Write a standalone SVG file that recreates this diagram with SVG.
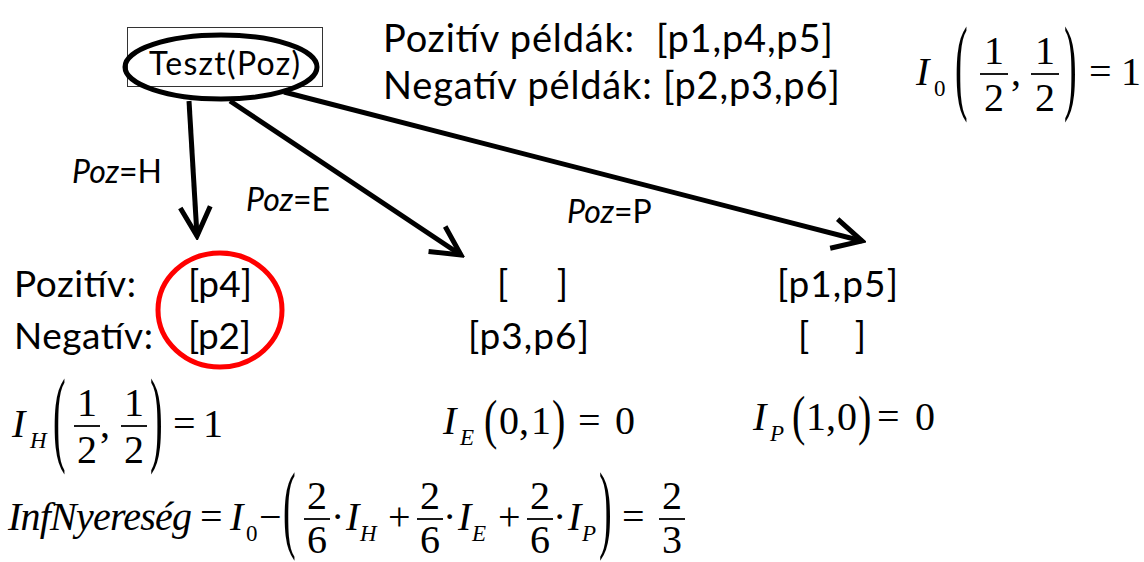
<svg xmlns="http://www.w3.org/2000/svg" width="1144" height="562" viewBox="0 0 1144 562">
<style>
.t{font-family:Lato,"Liberation Sans",sans-serif;fill:#000}
.big{font-size:38px}
.mid{font-size:37px}
.lab{font-size:32px}
.m{font-family:"Liberation Serif","Times New Roman",serif;font-size:40px;fill:#000}
.i{font-style:italic}
.s{font-size:23px}
.bp{font-family:"Liberation Serif","Times New Roman",serif;font-size:38px;fill:#000}
.bar{stroke:#000;stroke-width:1.8}
.c{text-anchor:middle}
.edge{stroke:#000;stroke-width:5;fill:none;marker-end:url(#ah)}
</style>
<defs>
<marker id="ah" markerUnits="userSpaceOnUse" viewBox="-40 -20 44 40" refX="0" refY="0" markerWidth="44" markerHeight="40" orient="auto">
<path d="M-29,-15 L0,0 L-29,15" fill="none" stroke="#000" stroke-width="5" stroke-linejoin="miter"/>
</marker>
</defs>
<rect width="1144" height="562" fill="#fff"/>

<g id="connectors">
<line class="edge" x1="189" y1="101" x2="197" y2="236"/>
<line class="edge" x1="230" y1="101" x2="461" y2="255"/>
<line class="edge" x1="284" y1="92" x2="862" y2="241"/>
<text class="t lab" x="72" y="183"><tspan font-style="italic">Poz</tspan>=H</text>
<text class="t lab" x="246" y="211"><tspan font-style="italic">Poz</tspan>=E</text>
<text class="t lab" x="567" y="223"><tspan font-style="italic">Poz</tspan>=P</text>
</g>

<g id="node-root">
<rect x="127.5" y="27.5" width="195" height="59" fill="none" stroke="#333" stroke-width="1"/>
<ellipse cx="221" cy="67" rx="96" ry="32" fill="none" stroke="#000" stroke-width="5"/>
<text class="t" x="149" y="75" font-size="32" textLength="151">Teszt(Poz)</text>
</g>

<g id="node-examples">
<text class="t big" x="383" y="52" textLength="450" xml:space="preserve">Pozitív példák:  [p1,p4,p5]</text>
<text class="t big" x="383" y="99" textLength="457">Negatív példák: [p2,p3,p6]</text>
</g>

<g id="node-I0">
<text class="m i" x="916" y="85">I</text>
<text class="m s" x="934" y="96">0</text>
<text class="bp" transform="translate(955,100.4) scale(1,2.78)">(</text>
<text class="m c" x="994" y="64">1</text>
<line class="bar" x1="980" y1="74" x2="1008" y2="74"/>
<text class="m c" x="994" y="111">2</text>
<text class="m" x="1011" y="85">,</text>
<text class="m c" x="1045" y="64">1</text>
<line class="bar" x1="1031" y1="74" x2="1059" y2="74"/>
<text class="m c" x="1045" y="111">2</text>
<text class="bp" transform="translate(1064,100.4) scale(1,2.78)">)</text>
<text class="m" x="1089" y="85">=</text>
<text class="m" x="1121" y="85">1</text>
</g>

<g id="node-H">
<text class="t mid" x="14" y="297" textLength="122">Pozitív:</text>
<text class="t mid" x="188" y="297" textLength="64">[p4]</text>
<text class="t mid" x="14" y="349" textLength="139">Negatív:</text>
<text class="t mid" x="188" y="349" textLength="63">[p2]</text>
<ellipse cx="220" cy="310" rx="62" ry="57" fill="none" stroke="#ff0000" stroke-width="5"/>
</g>

<g id="node-E">
<text class="t mid" x="497" y="297" textLength="71" xml:space="preserve">[    ]</text>
<text class="t mid" x="468" y="349" textLength="121">[p3,p6]</text>
</g>

<g id="node-P">
<text class="t mid" x="777" y="297" textLength="121">[p1,p5]</text>
<text class="t mid" x="798" y="349" textLength="68" xml:space="preserve">[    ]</text>
</g>

<g id="node-IH">
<text class="m i" x="12" y="437">I</text>
<text class="m i s" x="30" y="448">H</text>
<text class="bp" transform="translate(53,452.4) scale(1,2.78)">(</text>
<text class="m c" x="87" y="416">1</text>
<line class="bar" x1="74" y1="426" x2="100" y2="426"/>
<text class="m c" x="87" y="463">2</text>
<text class="m" x="100" y="437">,</text>
<text class="m c" x="134" y="416">1</text>
<line class="bar" x1="121" y1="426" x2="147" y2="426"/>
<text class="m c" x="134" y="463">2</text>
<text class="bp" transform="translate(150,452.4) scale(1,2.78)">)</text>
<text class="m" x="173" y="437">=</text>
<text class="m" x="203" y="437">1</text>
</g>

<g id="node-IE">
<text class="m i" x="443" y="434">I</text>
<text class="m i s" x="460" y="445">E</text>
<text class="m" transform="translate(484,438) scale(1,1.38)">(</text>
<text class="m" x="499" y="434">0</text>
<text class="m" x="519" y="434">,</text>
<text class="m" x="531" y="434">1</text>
<text class="m" transform="translate(552,438) scale(1,1.38)">)</text>
<text class="m" x="578" y="434">=</text>
<text class="m" x="615" y="434">0</text>
</g>

<g id="node-IP">
<text class="m i" x="753" y="430">I</text>
<text class="m i s" x="770" y="441">P</text>
<text class="m" transform="translate(792,434) scale(1,1.38)">(</text>
<text class="m" x="806" y="430">1</text>
<text class="m" x="826" y="430">,</text>
<text class="m" x="837" y="430">0</text>
<text class="m" transform="translate(858,434) scale(1,1.38)">)</text>
<text class="m" x="877" y="430">=</text>
<text class="m" x="915" y="430">0</text>
</g>

<g id="node-gain">
<text class="m i" x="8" y="530" textLength="184">InfNyereség</text>
<text class="m" x="200" y="530">=</text>
<text class="m i" x="230" y="530">I</text>
<text class="m s" x="246" y="541">0</text>
<text class="m" x="259" y="530">−</text>
<text class="bp" transform="translate(283,540) scale(1,2.54)">(</text>
<text class="m c" x="317" y="509">2</text>
<line class="bar" x1="304" y1="519" x2="330" y2="519"/>
<text class="m c" x="317" y="553">6</text>
<text class="m" x="331" y="530">·</text>
<text class="m i" x="346" y="530">I</text>
<text class="m i s" x="360" y="541">H</text>
<text class="m" x="388" y="530">+</text>
<text class="m c" x="430" y="509">2</text>
<line class="bar" x1="417" y1="519" x2="443" y2="519"/>
<text class="m c" x="430" y="553">6</text>
<text class="m" x="443" y="530">·</text>
<text class="m i" x="458" y="530">I</text>
<text class="m i s" x="472" y="541">E</text>
<text class="m" x="498" y="530">+</text>
<text class="m c" x="540" y="509">2</text>
<line class="bar" x1="527" y1="519" x2="553" y2="519"/>
<text class="m c" x="540" y="553">6</text>
<text class="m" x="553" y="530">·</text>
<text class="m i" x="568" y="530">I</text>
<text class="m i s" x="582" y="541">P</text>
<text class="bp" transform="translate(599,540) scale(1,2.54)">)</text>
<text class="m" x="622" y="530">=</text>
<text class="m c" x="672" y="509">2</text>
<line class="bar" x1="659" y1="519" x2="685" y2="519"/>
<text class="m c" x="672" y="553">3</text>
</g>
</svg>
